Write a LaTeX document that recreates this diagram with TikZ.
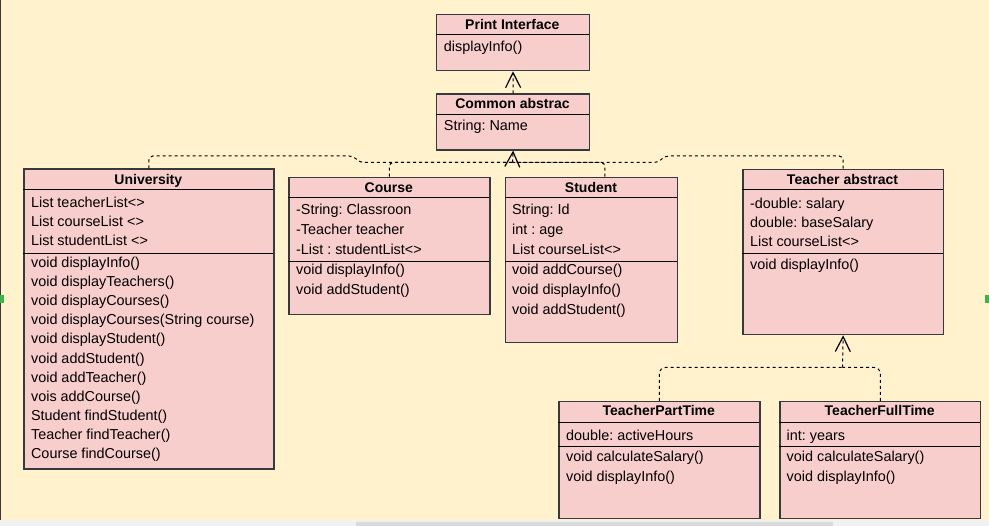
\documentclass[tikz,border=0pt]{standalone}
\usepackage{fontspec}
\setmainfont{Liberation Sans}
\frenchspacing
\usetikzlibrary{arrows.meta}
\definecolor{canvas}{HTML}{FFF2CC}
\definecolor{pinkfill}{HTML}{F8CECC}
\definecolor{edge}{HTML}{36393D}
\definecolor{strip}{HTML}{F1F1F1}
\definecolor{thumb}{HTML}{DADADA}
\definecolor{greentick}{HTML}{3DB54A}

\begin{document}
\begin{tikzpicture}[x=1pt, y=-1pt, >={Straight Barb[length=15pt,width=15pt,line width=1.2pt]}]
\tikzstyle{box}=[draw=edge, fill=pinkfill, line width=1.3pt, rectangle, anchor=north west, inner sep=0pt]
\tikzstyle{head}=[anchor=base, inner sep=0pt, font=\bfseries\fontsize{14}{17}\selectfont]
\tikzstyle{field}=[anchor=base west, inner sep=0pt, font=\fontsize{14.4}{17}\selectfont]
\tikzstyle{rule}=[line width=1pt]
\tikzstyle{dep}=[dash pattern=on 3pt off 3pt, line width=1pt]
\useasboundingbox (0,0) rectangle (989,526);
% canvas
\fill[canvas] (0,0) rectangle (989,520);
\fill[strip] (0,520) rectangle (989,526);
\fill[thumb] (356,522) rectangle (833,526);
\draw[edge, line width=1.3pt] (0.7,0) -- (0.7,520);
\fill[greentick] (0,295) rectangle (4,302.7);
\fill[greentick] (985,295) rectangle (989,302.7);
% interface and abstract base
\node[box, minimum width=152.7pt, minimum height=56pt](prt) at (436,14) {};
\draw[rule] (436,34.3) -- (588.7,34.3);
\node[head](prtT) at (512.3,29.3) {Print Interface};
\node[field](prtA) at (443.7,51.5) {displayInfo()};
\node[box, minimum width=153pt, minimum height=56pt](cmn) at (436,93.3) {};
\draw[rule] (436,115) -- (589,115);
\node[head](cmnT) at (512.5,108.5) {Common abstrac};
\node[field](cmnA) at (443.7,130.7) {String: Name};
% University
\node[box, minimum width=250pt, minimum height=300pt](uni) at (23.3,168.3) {};
\draw[rule] (23.3,189.3) -- (273.3,189.3);
\draw[rule] (23.3,253.3) -- (273.3,253.3);
\node[head](uniT) at (148.3,184.3) {University};
\node[field](uniA1) at (30.9,207.3) {List teacherList<>};
\node[field](uniA2) at (30.9,226.4) {List courseList <>};
\node[field](uniA3) at (30.9,245.5) {List studentList <>};
\node[field](uniM1) at (30.9,267.3) {void displayInfo()};
\node[field](uniM2) at (30.9,286.5) {void displayTeachers()};
\node[field](uniM3) at (30.9,305.6) {void displayCourses()};
\node[field](uniM4) at (30.9,324.8) {void displayCourses(String course)};
\node[field](uniM5) at (30.9,344.0) {void displayStudent()};
\node[field](uniM6) at (30.9,363.2) {void addStudent()};
\node[field](uniM7) at (30.9,382.3) {void addTeacher()};
\node[field](uniM8) at (30.9,401.5) {vois addCourse()};
\node[field](uniM9) at (30.9,420.7) {Student findStudent()};
\node[field](uniM10) at (30.9,439.8) {Teacher findTeacher()};
\node[field](uniM11) at (30.9,459.0) {Course findCourse()};
% Course
\node[box, minimum width=201pt, minimum height=137pt](crs) at (288.3,176.7) {};
\draw[rule] (288.3,197.7) -- (489.3,197.7);
\draw[rule] (288.3,261.7) -- (489.3,261.7);
\node[head](crsT) at (388.8,192.3) {Course};
\node[field](crsA1) at (295.9,215) {-String: Classroon};
\node[field](crsA2) at (295.9,235) {-Teacher teacher};
\node[field](crsA3) at (295.9,254.3) {-List : studentList<>};
\node[field](crsM1) at (295.9,275) {void displayInfo()};
\node[field](crsM2) at (295.9,295) {void addStudent()};
% Student
\node[box, minimum width=172pt, minimum height=165.3pt](stu) at (505,176.7) {};
\draw[rule] (505,197.7) -- (677,197.7);
\draw[rule] (505,261.7) -- (677,261.7);
\node[head](stuT) at (591,192.3) {Student};
\node[field](stuA1) at (511.9,215) {String: Id};
\node[field](stuA2) at (511.9,235) {int : age};
\node[field](stuA3) at (511.9,254.3) {List courseList<>};
\node[field](stuM1) at (511.9,275) {void addCourse()};
\node[field](stuM2) at (511.9,295) {void displayInfo()};
\node[field](stuM3) at (511.9,314.3) {void addStudent()};
% Teacher
\node[box, minimum width=200.4pt, minimum height=165.3pt](tch) at (742.3,168.7) {};
\draw[rule] (742.3,189.3) -- (942.7,189.3);
\draw[rule] (742.3,253.3) -- (942.7,253.3);
\node[head](tchT) at (842.5,184.3) {Teacher abstract};
\node[field](tchA1) at (749.9,208.3) {-double: salary};
\node[field](tchA2) at (749.9,227.7) {double: baseSalary};
\node[field](tchA3) at (749.9,246.8) {List courseList<>};
\node[field](tchM1) at (749.9,269.3) {void displayInfo()};
% teacher subclasses
\node[box, minimum width=201pt, minimum height=116.7pt](ptm) at (558.3,401) {};
\draw[rule] (558.3,422.3) -- (759.3,422.3);
\draw[rule] (558.3,447) -- (759.3,447);
\node[head](ptmT) at (658.8,416) {TeacherPartTime};
\node[field](ptmA1) at (565.9,440.3) {double: activeHours};
\node[field](ptmM1) at (565.9,461.7) {void calculateSalary()};
\node[field](ptmM2) at (565.9,481.7) {void displayInfo()};
\node[box, minimum width=200.7pt, minimum height=117pt](ftm) at (779.3,401) {};
\draw[rule] (779.3,422.3) -- (980,422.3);
\draw[rule] (779.3,447) -- (980,447);
\node[head](ftmT) at (879.7,416) {TeacherFullTime};
\node[field](ftmA1) at (786.5,440.3) {int: years};
\node[field](ftmM1) at (786.5,461.7) {void calculateSalary()};
\node[field](ftmM2) at (786.5,481.7) {void displayInfo()};
% dependencies
\coordinate (jn) at (512.5,162.5);
\coordinate (jt) at (842.5,367.5);
\draw[dep, rounded corners=4pt] (uni.north) |- (353,156) -- (360,162.5) -- (jn);
\draw[dep, rounded corners=4pt] (crs.north) |- (jn);
\draw[dep, rounded corners=4pt] ([xshift=13.3pt]stu.north) |- (jn);
\draw[dep, rounded corners=4pt] (tch.north) |- (665,156) -- (658,162.5) -- (jn);
\draw[dep, ->] (jn) -- (cmn.south);
\draw[dep, ->] (cmn.north) -- (prt.south);
\draw[dep, rounded corners=6pt] (ptm.north) |- (jt);
\draw[dep, rounded corners=6pt] (ftm.north) |- (jt);
\draw[dep, ->] (jt) -- (tch.south);
\end{tikzpicture}
\end{document}
